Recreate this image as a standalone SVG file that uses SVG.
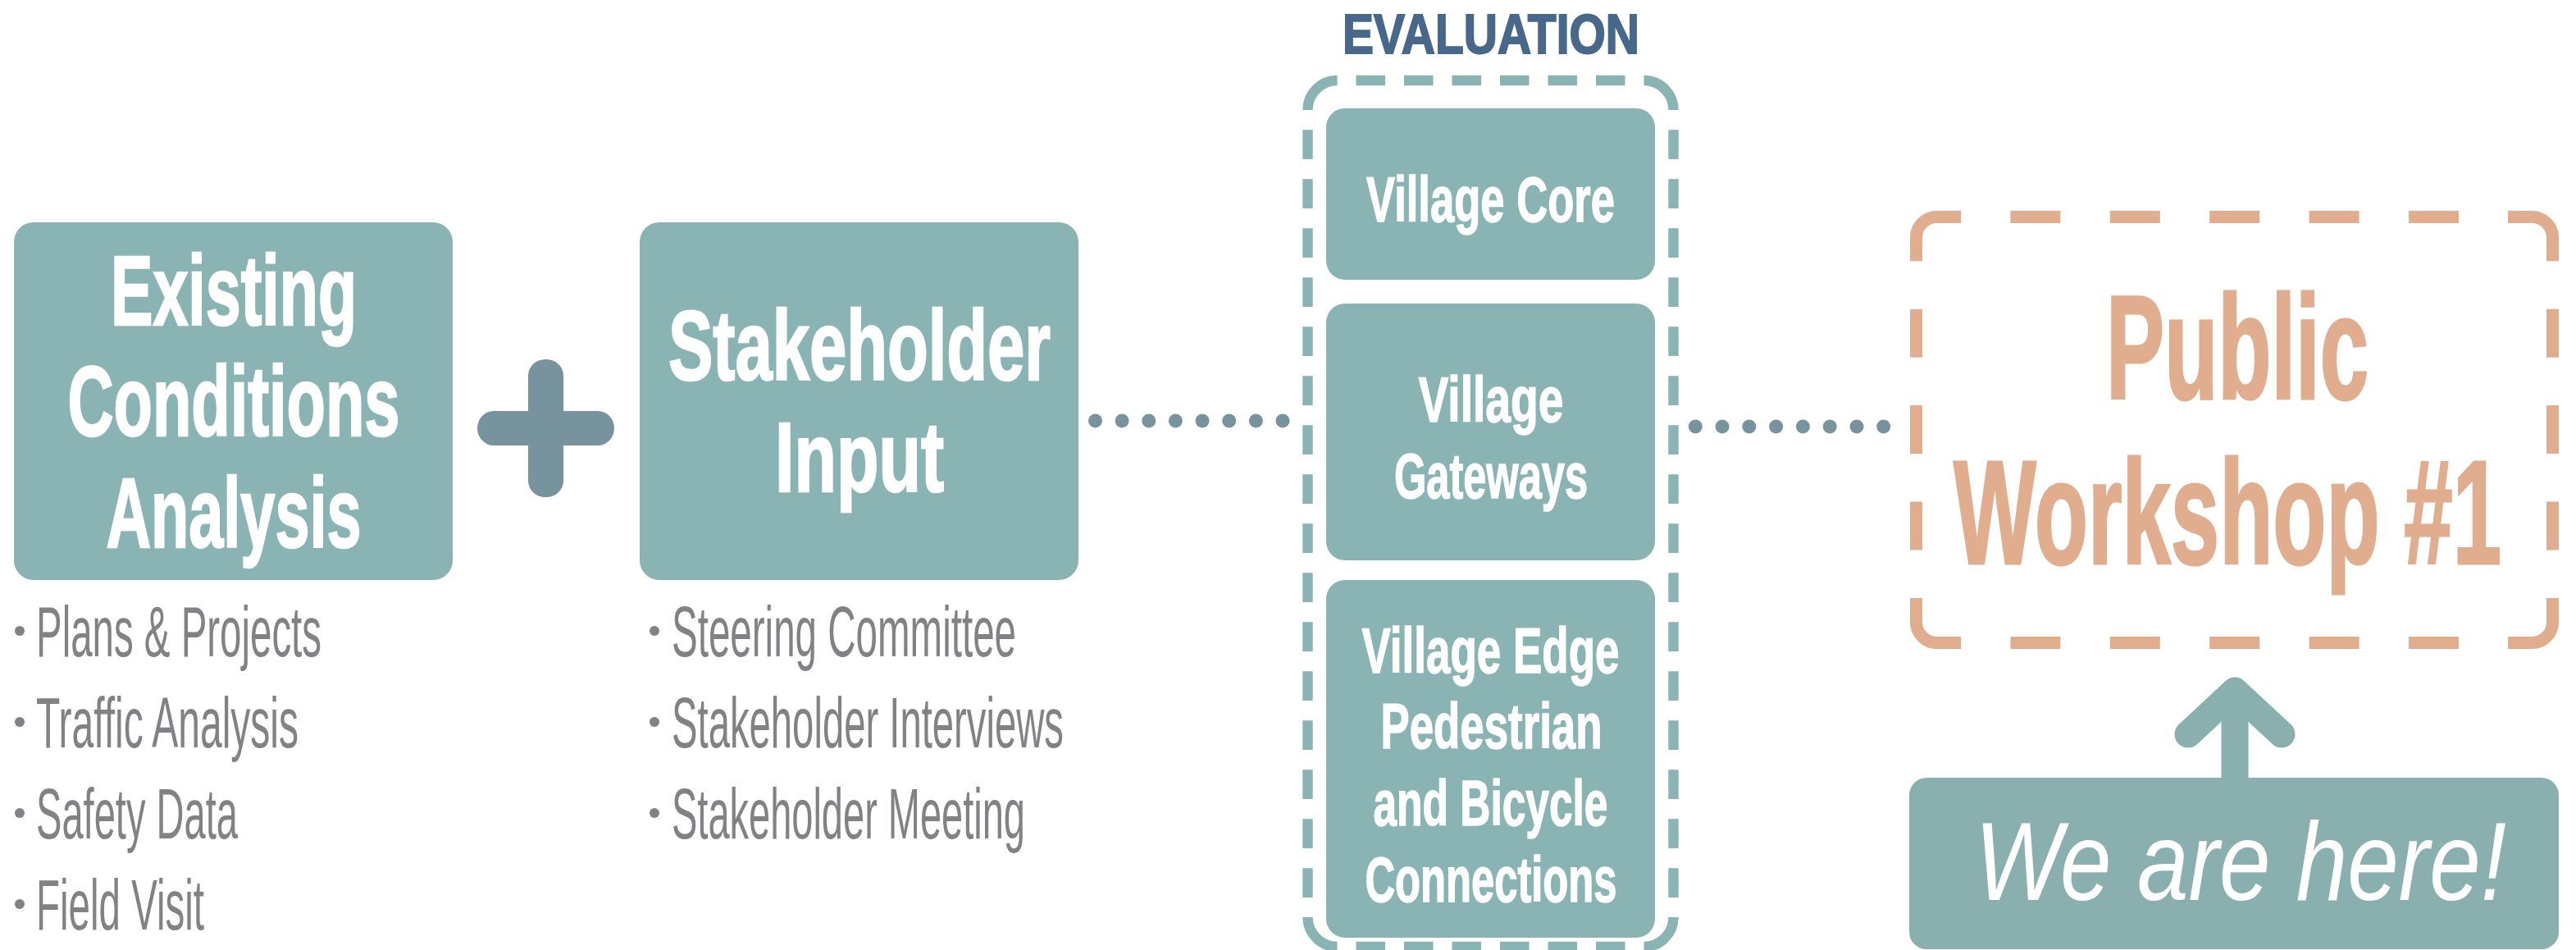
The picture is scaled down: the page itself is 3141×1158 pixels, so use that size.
<svg xmlns="http://www.w3.org/2000/svg" width="3141" height="1158" viewBox="0 0 3141 1158">
<style>
.box{fill:#8ab3b4}
.hd{font-family:"Liberation Sans",Arial,sans-serif;font-weight:bold;fill:#ffffff;stroke:#ffffff;stroke-width:2.5;text-anchor:middle}
.big{font-size:120px}
.mid{font-size:78px;stroke-width:1.5}
.li{font-family:"Liberation Sans",Arial,sans-serif;font-size:87px;fill:#808285}
.bul{fill:#808285}
.dot{fill:#77939d}
.ev{fill:none;stroke:#8ab3b4;stroke-width:12.4}
.pw{fill:none;stroke:#e0ad8e;stroke-width:15}
.pwt{font-family:"Liberation Sans",Arial,sans-serif;font-weight:bold;font-size:180px;fill:#e0ad8e;stroke:#e0ad8e;stroke-width:3;text-anchor:middle}
</style>
<rect width="3141" height="1158" fill="#ffffff"/>

<g id="existing-conditions">
<rect class="box" x="17" y="271" width="535" height="436" rx="24"/>
<text class="hd big" x="285" y="396" textLength="300" lengthAdjust="spacingAndGlyphs">Existing</text>
<text class="hd big" x="285" y="531" textLength="405" lengthAdjust="spacingAndGlyphs">Conditions</text>
<text class="hd big" x="285" y="667" textLength="311" lengthAdjust="spacingAndGlyphs">Analysis</text>
<circle class="bul" cx="24" cy="769" r="6"/>
<text class="li" x="44" y="800" textLength="348" lengthAdjust="spacingAndGlyphs">Plans &amp; Projects</text>
<circle class="bul" cx="24" cy="880" r="6"/>
<text class="li" x="44" y="911" textLength="320" lengthAdjust="spacingAndGlyphs">Traffic Analysis</text>
<circle class="bul" cx="24" cy="991" r="6"/>
<text class="li" x="44" y="1022" textLength="246" lengthAdjust="spacingAndGlyphs">Safety Data</text>
<circle class="bul" cx="24" cy="1102" r="6"/>
<text class="li" x="44" y="1133" textLength="205" lengthAdjust="spacingAndGlyphs">Field Visit</text>
</g>

<g id="plus" fill="#77949e">
<rect x="582" y="501" width="167" height="42" rx="20" ry="21"/>
<rect x="644" y="438" width="43" height="168" rx="21" ry="20"/>
</g>

<g id="stakeholder-input">
<rect class="box" x="780" y="271" width="535" height="436" rx="24"/>
<text class="hd big" x="1048" y="463" textLength="466" lengthAdjust="spacingAndGlyphs">Stakeholder</text>
<text class="hd big" x="1048" y="599" textLength="206" lengthAdjust="spacingAndGlyphs">Input</text>
<circle class="bul" cx="798" cy="769" r="6"/>
<text class="li" x="819" y="800" textLength="420" lengthAdjust="spacingAndGlyphs">Steering Committee</text>
<circle class="bul" cx="798" cy="880" r="6"/>
<text class="li" x="819" y="911" textLength="478" lengthAdjust="spacingAndGlyphs">Stakeholder Interviews</text>
<circle class="bul" cx="798" cy="991" r="6"/>
<text class="li" x="819" y="1022" textLength="431" lengthAdjust="spacingAndGlyphs">Stakeholder Meeting</text>
</g>

<g id="evaluation">
<text x="1818" y="65" font-family="'Liberation Sans',Arial,sans-serif" font-weight="bold" font-size="68" fill="#47688a" stroke="#47688a" stroke-width="2" text-anchor="middle" textLength="362" lengthAdjust="spacingAndGlyphs">EVALUATION</text>
<path class="ev" d="M1594.5 134 A36 36 0 0 1 1630.5 98 M2004.5 98 A36 36 0 0 1 2040.5 134 M2040.5 1118 A36 36 0 0 1 2004.5 1154 M1630.5 1154 A36 36 0 0 1 1594.5 1118"/>
<path class="ev" d="M1630.5 98 H2004.5 M1630.5 1154 H2004.5" stroke-dasharray="35.5 23" stroke-dashoffset="35.5"/>
<path class="ev" d="M1594.5 134 V1118 M2040.5 134 V1118" stroke-dasharray="35.7 24.3" stroke-dashoffset="35.7"/>
</g>

<g id="village-core">
<rect class="box" x="1617" y="132" width="401" height="209" rx="23"/>
<text class="hd mid" x="1817.5" y="270" textLength="303" lengthAdjust="spacingAndGlyphs">Village Core</text>
</g>

<g id="village-gateways">
<rect class="box" x="1617" y="370" width="401" height="313" rx="23"/>
<text class="hd mid" x="1818" y="514" textLength="177" lengthAdjust="spacingAndGlyphs">Village</text>
<text class="hd mid" x="1818" y="607" textLength="236" lengthAdjust="spacingAndGlyphs">Gateways</text>
</g>

<g id="village-edge">
<rect class="box" x="1617" y="707" width="401" height="436" rx="23"/>
<text class="hd mid" x="1817.5" y="820" textLength="314" lengthAdjust="spacingAndGlyphs">Village Edge</text>
<text class="hd mid" x="1818.5" y="912" textLength="270" lengthAdjust="spacingAndGlyphs">Pedestrian</text>
<text class="hd mid" x="1817.5" y="1006" textLength="286" lengthAdjust="spacingAndGlyphs">and Bicycle</text>
<text class="hd mid" x="1818" y="1099" textLength="307" lengthAdjust="spacingAndGlyphs">Connections</text>
</g>

<g id="public-workshop">
<path class="pw" d="M2336.5 318.3 V289.5 A25 25 0 0 1 2361.5 264.5 H2391 M3058 264.5 H3087.5 A25 25 0 0 1 3112.5 289.5 V318.3 M3112.5 729 V758.5 A25 25 0 0 1 3087.5 783.5 H3058 M2391 783.5 H2361.5 A25 25 0 0 1 2336.5 758.5 V729"/>
<path class="pw" d="M2391 264.5 H3058 M2391 783.5 H3058" stroke-dasharray="61 60.4" stroke-dashoffset="61"/>
<path class="pw" d="M2336.5 318.3 V729 M3112.5 318.3 V729" stroke-dasharray="59 58.4" stroke-dashoffset="59"/>
<text class="pwt" x="2728" y="486" textLength="320" lengthAdjust="spacingAndGlyphs">Public</text>
<text class="pwt" x="2716" y="687" textLength="668" lengthAdjust="spacingAndGlyphs">Workshop #1</text>
</g>

<g id="we-are-here">
<rect x="2328" y="948" width="792" height="209" rx="21" fill="#8aafaf"/>
<text x="2408" y="1097" font-family="'Liberation Sans',Arial,sans-serif" font-style="italic" font-size="135" fill="#ffffff" textLength="648" lengthAdjust="spacingAndGlyphs">We are here!</text>
</g>

<g id="connectors">
<g class="dot">
<circle cx="1335.5" cy="513" r="8.5"/><circle cx="1368.1" cy="513" r="8.5"/><circle cx="1400.8" cy="513" r="8.5"/><circle cx="1433.4" cy="513" r="8.5"/><circle cx="1466.1" cy="513" r="8.5"/><circle cx="1498.7" cy="513" r="8.5"/><circle cx="1531.4" cy="513" r="8.5"/><circle cx="1564" cy="513" r="8.5"/>
</g>
<g class="dot">
<circle cx="2067.3" cy="520" r="8.5"/><circle cx="2100" cy="520" r="8.5"/><circle cx="2132.8" cy="520" r="8.5"/><circle cx="2165.6" cy="520" r="8.5"/><circle cx="2198.4" cy="520" r="8.5"/><circle cx="2231.2" cy="520" r="8.5"/><circle cx="2264" cy="520" r="8.5"/><circle cx="2296.7" cy="520" r="8.5"/>
</g>
<g fill="none" stroke="#8aafaf" stroke-width="33">
<line x1="2725" y1="842" x2="2725" y2="950"/>
<polyline points="2668,895 2725,842 2782,895" stroke-linecap="round" stroke-linejoin="round"/>
</g>
</g>
</svg>
